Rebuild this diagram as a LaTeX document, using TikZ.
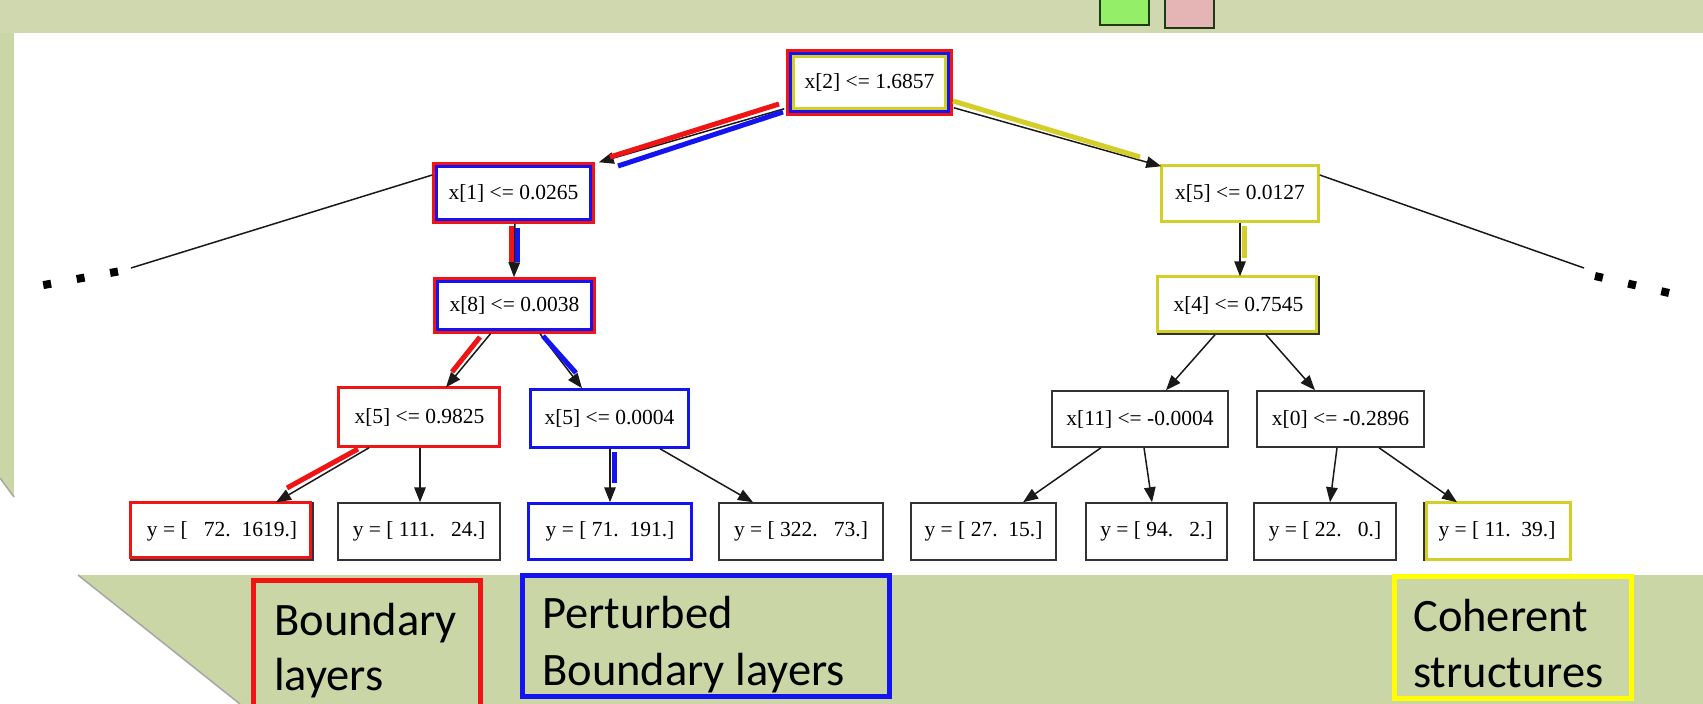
\documentclass[tikz,border=0pt]{standalone}
\usepackage{fontspec}
\setmainfont{Liberation Serif}
\newfontfamily\labelfont{Carlito}
\usetikzlibrary{arrows.meta,calc}

\definecolor{slidegreen}{HTML}{CBD6A6}
\definecolor{bandgreen}{HTML}{D0D8B0}
\definecolor{hlred}{HTML}{F01414}
\definecolor{hlblue}{HTML}{1414F0}
\definecolor{hlyellow}{HTML}{D4CE2A}
\definecolor{keyyellow}{HTML}{FFFF00}
\definecolor{sqgreen}{HTML}{95EE68}
\definecolor{sqpink}{HTML}{E5B4B4}
\definecolor{sqedge}{HTML}{1F3A17}

\tikzset{
  tnode/.style={draw=black!80, line width=1.5pt, fill=white, inner sep=0pt,
    minimum width=#1, minimum height=57,
    font=\fontsize{21.5}{25}\selectfont},
  edge/.style={line width=1.5pt, draw=black!90, -{Triangle[length=15pt,width=11.5pt]}},
  plainedge/.style={line width=1.5pt, draw=black!90},
  hl/.style={line width=5pt},
  keybox/.style={line width=5pt},
  keytext/.style={anchor=base west, inner sep=0pt,
    font=\labelfont\fontsize{46.5}{55}\selectfont},
  ellipsis/.style={line width=8pt, dash pattern=on 8pt off 26pt},
  legendsq/.style={draw=sqedge, line width=1.5pt},
}

% coloured frame inside a node: node, colour, inset
\newcommand{\nodeframe}[3]{%
  \draw[#2, line width=3pt] ([shift={(#3,#3)}]#1.north west) rectangle ([shift={(-#3,-#3)}]#1.south east);}

\begin{document}
\begin{tikzpicture}[x=1pt, y={(0pt,-1pt)}]
\useasboundingbox (0,0) rectangle (1703,704);

% slide background with the folded white corner
\fill[slidegreen] (0,0) rectangle (1703,704);
\fill[bandgreen] (0,0) rectangle (1703,33);
\fill[white] (14,33) rectangle (1703,575);
\fill[white] (0,478) -- (14,497) -- (14,575) -- (78,575) -- (240,704) -- (0,704) -- cycle;
\draw[black!35, line width=1.5pt] (0,478) -- (14,497);
\draw[black!35, line width=1.5pt] (78,575) -- (240,704);

% legend squares
\draw[legendsq, fill=sqgreen] (1100,-5) rectangle (1149,25);
\draw[legendsq, fill=sqpink] (1165,-5) rectangle (1214,28);

% tree nodes
\node[tnode=165, minimum height=65] (root) at (869.5,82.5) {x[2] <= 1.6857};
\node[tnode=161, minimum height=60] (n1) at (513.5,193) {x[1] <= 0.0265};
\node[tnode=161, minimum height=55] (n8) at (514.5,305.5) {x[8] <= 0.0038};
\node[tnode=158] (r5) at (1240,193.5) {x[5] <= 0.0127};
\node[tnode=161] (r4) at (1238.5,305.5) {x[4] <= 0.7545};
\node[tnode=161, minimum height=59] (a) at (419.5,417.5) {x[5] <= 0.9825};
\node[tnode=159, minimum height=59] (b) at (609.5,418.5) {x[5] <= 0.0004};
\node[tnode=176, minimum height=56] (c) at (1140,419) {x[11] <= -0.0004};
\node[tnode=167, minimum height=56] (d) at (1340.5,419) {x[0] <= -0.2896};

\node[tnode=182] (L1) at (222,531.5) {y = [\ \ \ 72.\ \ 1619.]};
\node[tnode=162] (L2) at (419,531.5) {y = [ 111.\ \ \ 24.]};
\node[tnode=164] (L3) at (610,531.5) {y = [\ 71.\ \ 191.]};
\node[tnode=164] (L4) at (801,531.5) {y = [ 322.\ \ \ 73.]};
\node[tnode=145] (L5) at (983.5,531.5) {y = [ 27.\ \ 15.]};
\node[tnode=141] (L6) at (1156.5,531.5) {y = [ 94.\ \ \ 2.]};
\node[tnode=142] (L7) at (1325,531.5) {y = [ 22.\ \ \ 0.]};
\node[tnode=146] (L8) at (1497,531.5) {y = [ 11.\ \ 39.]};

% coloured frames marking the paths
\nodeframe{root}{hlred}{1.5}
\nodeframe{root}{hlblue}{4.5}
\nodeframe{root}{hlyellow}{7.5}
\nodeframe{n1}{hlred}{1.5}
\nodeframe{n1}{hlblue}{4.5}
\nodeframe{n8}{hlred}{1.5}
\nodeframe{n8}{hlblue}{4.5}
\nodeframe{r5}{hlyellow}{1.5}
\draw[hlyellow, line width=3pt] ([shift={(0,0)}]r4.north west) rectangle ([shift={(-3,-3)}]r4.south east);
\draw[hlred, line width=3pt] ([shift={(0,0)}]a.north west) rectangle ([shift={(-1.5,-1.5)}]a.south east);
\nodeframe{b}{hlblue}{1.5}
\draw[hlred, line width=3pt] ([shift={(0,0)}]L1.north west) rectangle ([shift={(-3,-3)}]L1.south east);
\nodeframe{L3}{hlblue}{1.5}
\draw[hlyellow, line width=3pt] ([shift={(3,0)}]L8.north west) rectangle ([shift={(0,-1.5)}]L8.south east);

% connectors
\draw[edge] ([shift={(-2,-7)}]root.south west) -- ([shift={(4,0)}]n1.north east);
\draw[edge] ([shift={(1,-8)}]root.south east) -- ([shift={(1,2)}]r5.north west);
\draw[edge] ([xshift=1.5]n1.south) -- ([xshift=0.5]n1.south |- n8.north);
\draw[edge] (r5.south) -- (r5.south |- r4.north);
\draw[edge] ([xshift=-24]n8.south) -- ([xshift=26.5]a.north);
\draw[edge] ([xshift=25.5]n8.south) -- ([xshift=-27.5]b.north);
\draw[edge] ([xshift=-50.5]a.south) -- ([xshift=54]L1.north);
\draw[edge] ([xshift=0.5]a.south) -- ([xshift=1]L2.north);
\draw[edge] ([xshift=0.5]b.south) -- (L3.north);
\draw[edge] ([xshift=50.5]b.south) -- ([xshift=-48]L4.north);
\draw[edge] ([xshift=-23.5]r4.south) -- ([xshift=26]c.north);
\draw[edge] ([xshift=27.5]r4.south) -- ([xshift=-25.5]d.north);
\draw[edge] ([xshift=-39]c.south) -- ([xshift=39.5]L5.north);
\draw[edge] ([xshift=4]c.south) -- ([xshift=-4.5]L6.north);
\draw[edge] ([xshift=-3.5]d.south) -- ([xshift=5]L7.north);
\draw[edge] ([xshift=38.5]d.south) -- ([xshift=-40]L8.north);

% branches continuing out of view
\coordinate (lend) at (131,268);
\coordinate (rend) at (1584,268);
\draw[plainedge] ([yshift=18]n1.west) -- (lend);
\draw[plainedge] ([yshift=18.5]r5.east) -- (rend);
\coordinate (ldA) at (118,271.5);
\coordinate (ldB) at (41,285.5);
\coordinate (rdA) at (1595,276);
\coordinate (rdB) at (1669,293);
\draw[ellipsis] (ldA) -- (ldB);
\draw[ellipsis] (rdA) -- (rdB);

% highlighted path strokes beside the connectors
\draw[hl, hlred] (610,157) -- (779,104);
\draw[hl, hlblue] (618,166) -- (783,112);
\draw[hl, hlyellow] (953,101) -- (1140,157);
\draw[hl, hlred] (511,226) -- (511,262);
\draw[hl, hlblue] (517.5,228) -- (517.5,262);
\draw[hl, hlyellow] (1244.5,226) -- (1244.5,258);
\draw[hl, hlred] (480,337) -- (452,372);
\draw[hl, hlblue] (543,336) -- (576,373);
\draw[hl, hlred] (358,449) -- (287,488);
\draw[hl, hlblue] (614,452) -- (614,483);

% key boxes
\draw[keybox, hlred] (253.5,580.5) rectangle (480.5,715);
\draw[keybox, hlblue] (522.5,575.5) rectangle (889.5,696.5);
\draw[keybox, keyyellow] (1394.5,576.5) rectangle (1631.5,698.5);

\node[keytext] (k1a) at (274,635) {Boundary};
\node[keytext] (k1b) at (274,690) {layers};
\node[keytext] (k2a) at (542,628) {Perturbed};
\node[keytext] (k2b) at (542,685) {Boundary layers};
\node[keytext] (k3a) at (1413,631) {Coherent};
\node[keytext] (k3b) at (1413,687) {structures};
\end{tikzpicture}
\end{document}
